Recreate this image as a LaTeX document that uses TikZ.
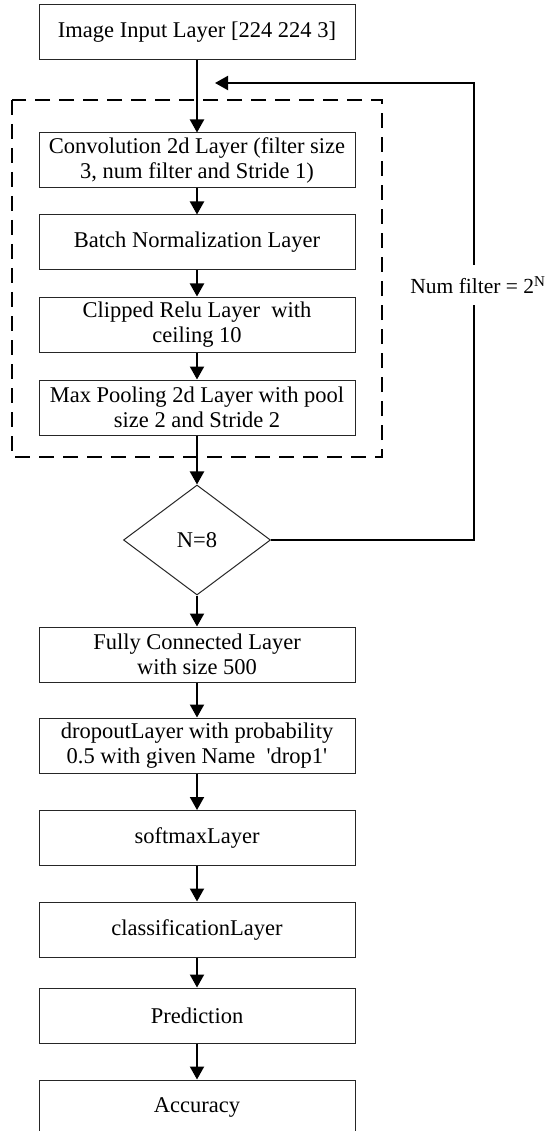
\documentclass[tikz,border=0pt]{standalone}
\usepackage{fontspec}
\newfontfamily\lserif{Liberation Serif}
\usetikzlibrary{arrows.meta,shapes.geometric}
\begin{document}
\begin{tikzpicture}[x=1pt,y=-1pt,
  txt/.style={font=\lserif\fontsize{22.5}{25.5}\selectfont},
  box/.style={txt, draw=black!85, line width=1pt, minimum width=316pt, minimum height=55pt, inner sep=2pt, align=center},
  dec/.style={txt, draw=black!85, line width=1pt, shape=diamond, minimum width=147pt, minimum height=110pt, inner sep=0pt},
  arr/.style={line width=2pt, -{Triangle[width=14pt,length=13pt]}},
  grp/.style={line width=2pt, dash pattern=on 15pt off 9pt}]
\useasboundingbox (0,0) rectangle (545,1131);
\fill[white] (0,0) rectangle (545,1131);

\node[box] (in) at (197,32) {Image Input Layer [224 224 3]};
\node[box] (conv) at (197,160.5) {Convolution 2d Layer (filter size\\3, num filter and Stride 1)};
\node[box] (bn) at (197,242.5) {Batch Normalization Layer};
\node[box] (relu) at (197,324.5) {Clipped Relu Layer~ with\\ceiling 10};
\node[box] (pool) at (197,407.5) {Max Pooling 2d Layer with pool\\size 2 and Stride 2};
\node[dec] (cond) at (197,540) {N=8};
\node[box] (fc) at (197,654.5) {Fully Connected Layer\\with size 500};
\node[box] (drop) at (197,745.5) {dropoutLayer with probability\\0.5 with given Name~ 'drop1'};
\node[box] (soft) at (197,838) {softmaxLayer};
\node[box] (cls) at (197,929.5) {classificationLayer};
\node[box] (pred) at (197,1015.5) {Prediction};
\node[box] (acc) at (197,1107.5) {Accuracy};

\draw[grp] (12,100) rectangle (382,457);

\coordinate (fbtip) at (215,83);
\coordinate (fbtr) at (474,83);
\coordinate (fbbr) at (474,540);

\draw[arr] (in) -- (conv);
\draw[arr] (conv) -- (bn);
\draw[arr] (bn) -- (relu);
\draw[arr] (relu) -- (pool);
\draw[arr] (pool) -- (cond);
\draw[arr] (cond) -- (fc);
\draw[arr] (fc) -- (drop);
\draw[arr] (drop) -- (soft);
\draw[arr] (soft) -- (cls);
\draw[arr] (cls) -- (pred);
\draw[arr] (pred) -- (acc);

\draw[arr] (cond.east) -- (fbbr) -- (fbtr) -- (fbtip);
\node[font=\lserif\fontsize{21.5}{24}\selectfont, fill=white, inner sep=1pt, minimum height=40pt] (lbl) at (478,285) {Num filter = 2\textsuperscript{N}};
\end{tikzpicture}
\end{document}
